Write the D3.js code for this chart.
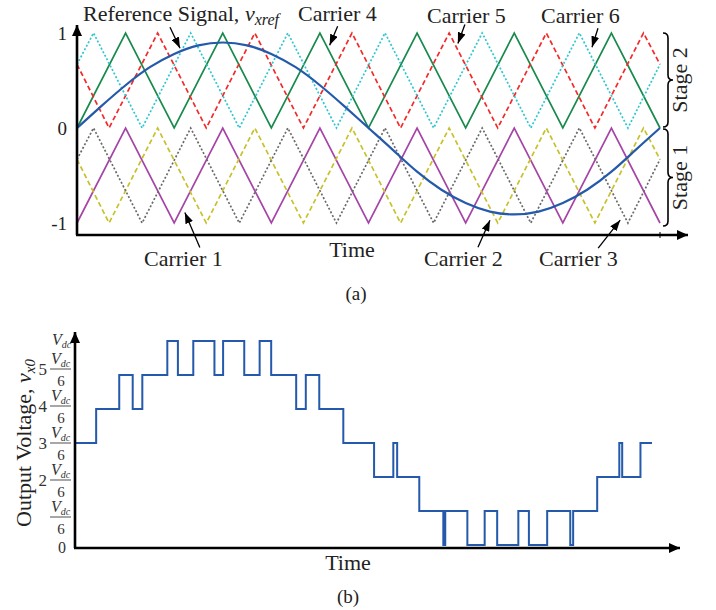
<!DOCTYPE html>
<html>
<head>
<meta charset="utf-8">
<script src="https://cdn.jsdelivr.net/npm/d3@7"></script>
<style>
body { margin: 0; background: #fff; }
svg { display: block; font-family: "Liberation Serif", "Times New Roman", serif; }
</style>
</head>
<body>
<div id="chart"></div>
<script>
var width = 716, height = 610;

// time is in carrier periods (6 carrier periods per reference cycle)
// stage 2 carriers, range 0..1
var carrier4 = [[0,0],[0.5,1],[1,0],[1.5,1],[2,0],[2.5,1],[3,0],[3.5,1],[4,0],[4.5,1],[5,0],[5.5,1],[6,0]];
var carrier5 = [[0,0.67],[0.33,0],[0.83,1],[1.33,0],[1.83,1],[2.33,0],[2.83,1],[3.33,0],[3.83,1],[4.33,0],[4.83,1],[5.33,0],[5.83,1],[6,0.67]];
var carrier6 = [[0,0.67],[0.17,1],[0.67,0],[1.17,1],[1.67,0],[2.17,1],[2.67,0],[3.17,1],[3.67,0],[4.17,1],[4.67,0],[5.17,1],[5.67,0],[6,0.67]];
// stage 1 carriers, range -1..0
var carrier1 = [[0,-1],[0.5,0],[1,-1],[1.5,0],[2,-1],[2.5,0],[3,-1],[3.5,0],[4,-1],[4.5,0],[5,-1],[5.5,0],[6,-1]];
var carrier2 = [[0,-0.33],[0.33,-1],[0.83,0],[1.33,-1],[1.83,0],[2.33,-1],[2.83,0],[3.33,-1],[3.83,0],[4.33,-1],[4.83,0],[5.33,-1],[5.83,0],[6,-0.33]];
var carrier3 = [[0,-0.33],[0.17,0],[0.67,-1],[1.17,0],[1.67,-1],[2.17,0],[2.67,-1],[3.17,0],[3.67,-1],[4.17,0],[4.67,-1],[5.17,0],[5.67,-1],[6,-0.33]];

// reference signal v_xref
var refTimes = [0,0.25,0.5,0.75,1,1.25,1.5,1.75,2,2.25,2.5,2.75,3,3.25,3.5,3.75,4,4.25,4.5,4.75,5,5.25,5.5,5.75,6];
var refValues = [0,0.23,0.45,0.64,0.78,0.87,0.9,0.87,0.78,0.64,0.45,0.23,0,-0.23,-0.46,-0.65,-0.79,-0.88,-0.91,-0.88,-0.79,-0.65,-0.46,-0.23,0];

// output voltage v_x0 in units of Vdc/6: level holds from each time to the next
var stepTimes  = [0,0.22,0.46,0.6,0.7,0.96,1.07,1.23,1.45,1.54,1.76,1.92,2.04,2.3,2.4,2.54,2.79,3.11,3.31,3.35,3.58,3.83,3.85,4.08,4.26,4.39,4.61,4.72,4.91,5.15,5.18,5.43,5.66,5.69,5.88,6];
var stepLevels = [3,4,5,4,5,6,5,6,5,6,5,6,5,4,5,4,3,2,3,2,1,0,1,0,1,0,1,0,1,0,1,2,3,2,3,3];

var yTicksA = [-1, 0, 1];
var levelTicks = [1, 2, 3, 4, 5];

var svg = d3.select('#chart').append('svg')
    .attr('width', width).attr('height', height);

var defs = svg.append('defs');
defs.append('marker').attr('id', 'axisHead')
    .attr('viewBox', '0 0 11 10').attr('refX', 11).attr('refY', 5)
    .attr('markerWidth', 11).attr('markerHeight', 10)
    .attr('markerUnits', 'userSpaceOnUse').attr('orient', 'auto')
  .append('path').attr('d', 'M0,0L11,5L0,10Z').attr('fill', '#000');
defs.append('marker').attr('id', 'noteHead')
    .attr('viewBox', '0 0 11 8').attr('refX', 11).attr('refY', 4)
    .attr('markerWidth', 11).attr('markerHeight', 8)
    .attr('markerUnits', 'userSpaceOnUse').attr('orient', 'auto')
  .append('path').attr('d', 'M0,0L11,4L0,8Z').attr('fill', '#000');

// ---------- (a) carriers and reference ----------
var xA = d3.scaleLinear().domain([0, 6]).range([77, 660]);
var yA = d3.scaleLinear().domain([-1, 1]).range([223, 33]);

var lineA = d3.line().x(d => xA(d[0])).y(d => yA(d[1]));

var carriers = [
  {data: carrier1, color: '#a644a6', dash: null},
  {data: carrier2, color: '#c8c12c', dash: '5,3'},
  {data: carrier3, color: '#6a6a6a', dash: '2,2'},
  {data: carrier4, color: '#188a4b', dash: null},
  {data: carrier5, color: '#f22a2a', dash: '5,3'},
  {data: carrier6, color: '#2fc6d0', dash: '2,2'}
];

svg.append('g').selectAll('path')
    .data(carriers)
  .enter().append('path')
    .attr('d', d => lineA(d.data))
    .attr('fill', 'none')
    .attr('stroke', d => d.color)
    .attr('stroke-width', 1.7)
    .attr('stroke-dasharray', d => d.dash);

var refLine = d3.line().curve(d3.curveNatural)
    .x((d, i) => xA(refTimes[i])).y(d => yA(d));
svg.append('path')
    .attr('d', refLine(refValues))
    .attr('fill', 'none').attr('stroke', '#2459ab').attr('stroke-width', 2.2);

// axes
var axA = svg.append('g').attr('class', 'axis-a');
var xAxisYA = yA(-1) + 12;
axA.append('line')
    .attr('x1', xA(0)).attr('y1', xAxisYA).attr('x2', xA(0)).attr('y2', 25)
    .attr('stroke', '#000').attr('stroke-width', 2.6).attr('marker-end', 'url(#axisHead)');
axA.append('line')
    .attr('x1', xA(0) - 1).attr('y1', xAxisYA).attr('x2', 688).attr('y2', xAxisYA)
    .attr('stroke', '#000').attr('stroke-width', 2.6).attr('marker-end', 'url(#axisHead)');
axA.append('line')
    .attr('x1', xA(6)).attr('x2', xA(6)).attr('y1', xAxisYA - 3).attr('y2', xAxisYA + 3)
    .attr('stroke', '#000').attr('stroke-width', 1);

var yAxisA = d3.axisLeft(yA).tickValues(yTicksA)
    .tickSize(0).tickPadding(10).tickFormat(d => String(d));
svg.append('g')
    .attr('transform', `translate(${xA(0)},0)`)
    .call(yAxisA)
    .call(g => g.select('.domain').remove())
    .call(g => g.selectAll('text')
        .attr('font-family', '"Liberation Serif", serif')
        .attr('font-size', 19).attr('fill', '#222'));

// stage braces
function bracePath(x, y1, y2, w) {
  var ym = (y1 + y2) / 2, r = 5;
  return `M${x},${y1}Q${x + w},${y1} ${x + w},${y1 + r}` +
         `L${x + w},${ym - r}Q${x + w},${ym} ${x + 2 * w},${ym}` +
         `Q${x + w},${ym} ${x + w},${ym + r}` +
         `L${x + w},${y2 - r}Q${x + w},${y2} ${x},${y2}`;
}
var stages = [{name: 'Stage 2', from: 1, to: 0}, {name: 'Stage 1', from: 0, to: -1}];
stages.forEach(function(s) {
  var y1 = yA(s.from) + (s.from === 0 ? 1 : 0), y2 = yA(s.to) + (s.to === -1 ? 3 : -1);
  svg.append('path').attr('d', bracePath(663, y1, y2, 5))
      .attr('fill', 'none').attr('stroke', '#000').attr('stroke-width', 1.6);
  svg.append('text')
      .attr('transform', `translate(687,${(y1 + y2) / 2})rotate(-90)`)
      .attr('text-anchor', 'middle').attr('font-size', 22).attr('fill', '#222')
      .text(s.name);
});

// annotation arrows: tip in data units, tail offset in px
var notesA = [
  {tip: [1.06, 0.84], tail: [-10, -21]},
  {tip: [2.6, 0.87],  tail: [8, -19]},
  {tip: [3.92, 0.89], tail: [7, -19]},
  {tip: [5.3, 0.85],  tail: [6, -19]},
  {tip: [1.11, -0.89], tail: [15, 35]},
  {tip: [4.25, -0.97], tail: [-12, 27]},
  {tip: [5.59, -0.97], tail: [-22, 28]}
];
svg.append('g').selectAll('line')
    .data(notesA)
  .enter().append('line')
    .attr('x1', d => xA(d.tip[0]) + d.tail[0])
    .attr('y1', d => yA(d.tip[1]) + d.tail[1])
    .attr('x2', d => xA(d.tip[0]))
    .attr('y2', d => yA(d.tip[1]))
    .attr('stroke', '#000').attr('stroke-width', 1.3)
    .attr('marker-end', 'url(#noteHead)');

var labels = svg.append('g').attr('font-size', 22).attr('fill', '#222');
var refLabel = labels.append('text').attr('x', 83).attr('y', 21);
refLabel.append('tspan').text('Reference Signal, ');
refLabel.append('tspan').attr('font-style', 'italic').text('v');
refLabel.append('tspan').attr('font-style', 'italic').attr('font-size', 16).attr('dy', 4).text('xref');
labels.append('text').attr('x', 298).attr('y', 21).text('Carrier 4');
labels.append('text').attr('x', 427).attr('y', 23).text('Carrier 5');
labels.append('text').attr('x', 541).attr('y', 23).text('Carrier 6');
labels.append('text').attr('x', 144).attr('y', 266).text('Carrier 1');
labels.append('text').attr('x', 424).attr('y', 266).text('Carrier 2');
labels.append('text').attr('x', 539).attr('y', 266).text('Carrier 3');
labels.append('text').attr('x', 352).attr('y', 257).attr('text-anchor', 'middle').text('Time');
labels.append('text').attr('x', 356).attr('y', 300).attr('text-anchor', 'middle')
    .attr('font-size', 19).text('(a)');

// ---------- (b) output voltage ----------
var xB = d3.scaleLinear().domain([0, 6]).range([75, 652]);
var yB = d3.scaleLinear().domain([0, 6]).range([545, 341]);

var stepLine = d3.line().curve(d3.curveStepAfter)
    .x((d, i) => xB(stepTimes[i])).y(d => yB(d));
svg.append('path')
    .attr('d', stepLine(stepLevels))
    .attr('fill', 'none').attr('stroke', '#2459ab').attr('stroke-width', 2);

var xAxisYB = yB(0) + 3;
svg.append('line')
    .attr('x1', xB(0)).attr('y1', xAxisYB).attr('x2', xB(0)).attr('y2', 332)
    .attr('stroke', '#000').attr('stroke-width', 2.6).attr('marker-end', 'url(#axisHead)');
svg.append('line')
    .attr('x1', xB(0) - 1).attr('y1', xAxisYB).attr('x2', 680).attr('y2', xAxisYB)
    .attr('stroke', '#000').attr('stroke-width', 2.6).attr('marker-end', 'url(#axisHead)');

// level labels k*Vdc/6 (the figure spreads them a little wider than the levels)
function labelY(k) { return yB(k) + (3 - k) * 3; }
var lvl = svg.append('g').selectAll('g')
    .data(levelTicks)
  .enter().append('g')
    .attr('transform', d => `translate(0,${labelY(d)})`)
    .attr('fill', '#333');
lvl.filter(d => d > 1).append('text')
    .attr('x', 47).attr('y', 6).attr('text-anchor', 'end').attr('font-size', 17)
    .text(d => d);
lvl.append('line').attr('x1', 50).attr('x2', 71)
    .attr('stroke', '#777').attr('stroke-width', 1.3);
var num = lvl.append('text').attr('x', 51).attr('y', -5).attr('font-size', 16).attr('font-style', 'italic');
num.append('tspan').text('V');
num.append('tspan').attr('font-size', 10).attr('dy', 3).text('dc');
lvl.append('text').attr('x', 61).attr('y', 17).attr('text-anchor', 'middle')
    .attr('font-size', 15).text('6');

var topLbl = svg.append('text').attr('x', 52).attr('y', yB(6) + 4)
    .attr('font-size', 16).attr('font-style', 'italic').attr('fill', '#333');
topLbl.append('tspan').text('V');
topLbl.append('tspan').attr('font-size', 10).attr('dy', 3).text('dc');
svg.append('text').attr('x', 62).attr('y', yB(0) + 8).attr('text-anchor', 'middle')
    .attr('font-size', 16).attr('fill', '#333').text('0');

var yTitle = svg.append('text')
    .attr('transform', `translate(31,${yB(3)})rotate(-90)`)
    .attr('text-anchor', 'middle').attr('font-size', 22).attr('fill', '#222');
yTitle.append('tspan').text('Output Voltage, ');
yTitle.append('tspan').attr('font-style', 'italic').text('v');
yTitle.append('tspan').attr('font-style', 'italic').attr('font-size', 15).attr('dy', 4).text('x0');

svg.append('text').attr('x', 348).attr('y', 570).attr('text-anchor', 'middle')
    .attr('font-size', 22).attr('fill', '#222').text('Time');
svg.append('text').attr('x', 348).attr('y', 603).attr('text-anchor', 'middle')
    .attr('font-size', 19).attr('fill', '#222').text('(b)');
</script>
</body>
</html>
